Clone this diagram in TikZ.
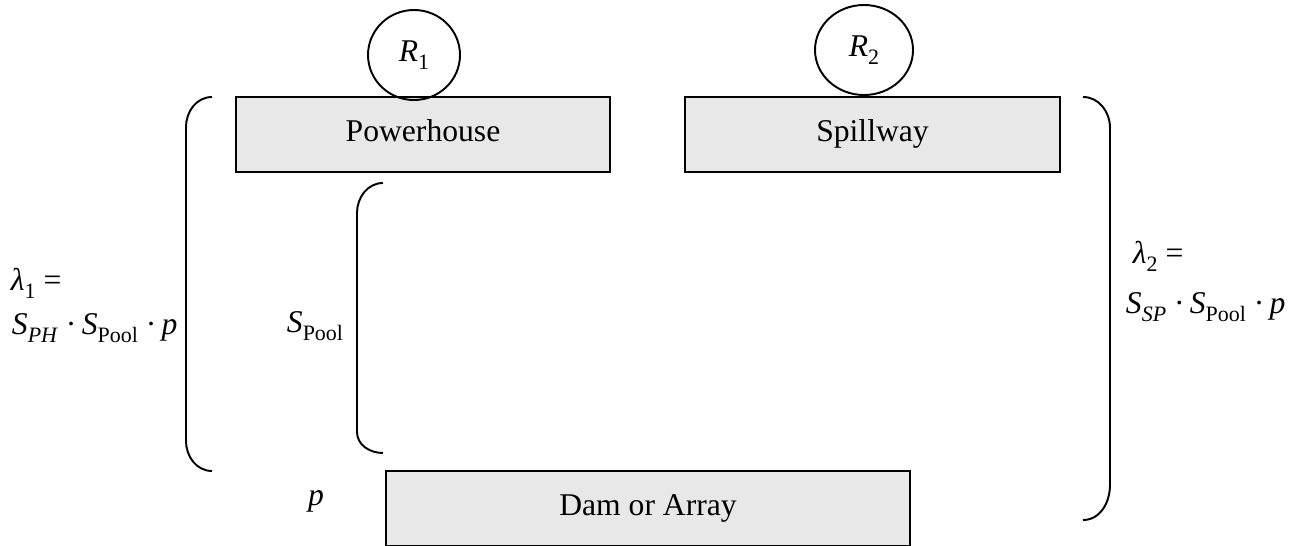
\documentclass[tikz,border=0pt]{standalone}
\usepackage{fontspec}
\setmainfont{Liberation Serif}
\usetikzlibrary{shapes.geometric}
\definecolor{boxgray}{RGB}{232,232,232}
\newcommand{\subvar}[2]{\textit{#1}\raisebox{-0.26em}{\fontsize{12.5}{12.5}\selectfont #2}}

\begin{document}
\begin{tikzpicture}[
    font=\fontsize{18}{22}\selectfont,
    line width=1.1pt,
    block/.style={draw, fill=boxgray, minimum height=1.5cm, text height=0.85em, text depth=0pt, inner sep=0pt},
    reservoir/.style={draw, ellipse, minimum height=1.8cm, inner sep=0pt},
    lbl/.style={inner sep=0pt, anchor=base west}
  ]
  \useasboundingbox (0,0) rectangle (25.92,10.9);

  \node[block, minimum width=7.48cm] (ph) at (8.46,8.21) {Powerhouse};
  \node[block, minimum width=7.5cm] (sp) at (17.45,8.21) {Spillway};
  \node[block, minimum width=10.48cm] (dam) at (12.96,0.73) {Dam or Array};

  \node[reservoir, minimum width=1.84cm] (r1) at (8.28,9.8) {\subvar{R}{1}};
  \node[reservoir, minimum width=1.96cm] (r2) at (17.28,9.9) {\subvar{R}{2}};

  % brackets
  \draw (4.24,8.96) to[out=180,in=90] (3.72,8.36) -- (3.72,2.08) to[out=-90,in=180] (4.24,1.48);
  \draw (7.66,7.24) to[out=180,in=90] (7.14,6.64) -- (7.14,2.26) to[out=-90,in=180] (7.66,1.84);
  \draw (21.66,8.96) to[out=0,in=90] (22.2,8.34) -- (22.2,1.2) to[out=-90,in=0] (21.66,0.5);

  \node[lbl] (lam1) at (0.2,5.1) {\subvar{λ}{1} =};
  \node[lbl] (rate1) at (0.22,4.22) {\subvar{S}{\textit{PH}}~·\,\subvar{S}{Pool}~·\,\textit{p}};
  \node[lbl] (pool) at (5.72,4.26) {\subvar{S}{Pool}};
  \node[inner sep=0pt, anchor=base] (prob) at (6.32,0.8) {\textit{p}};
  \node[lbl] (lam2) at (22.64,5.64) {\subvar{λ}{2} =};
  \node[lbl] (rate2) at (22.5,4.64) {\subvar{S}{\textit{SP}}~·\,\subvar{S}{Pool}~·\,\textit{p}};
\end{tikzpicture}
\end{document}
